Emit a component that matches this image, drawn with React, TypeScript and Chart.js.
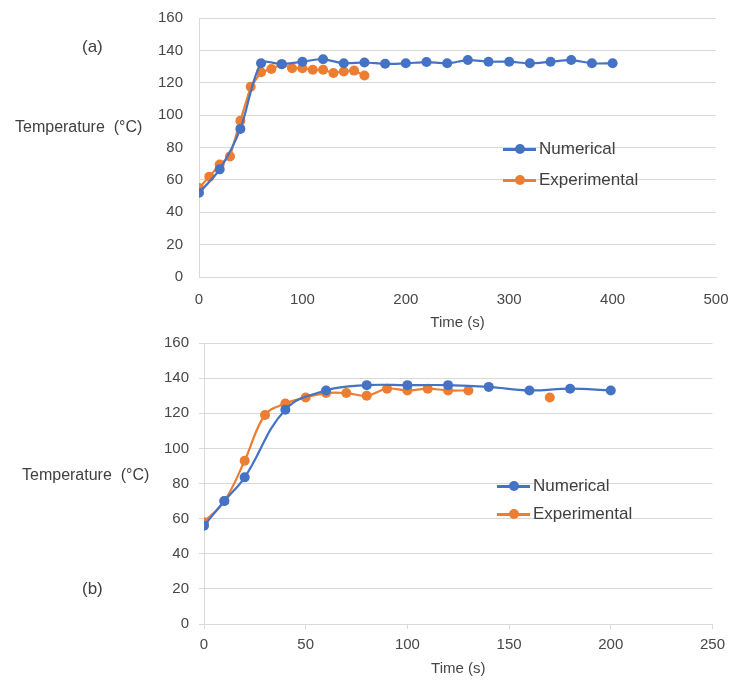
import React, { useEffect, useRef } from "react";
import { Chart, registerables } from "chart.js";
Chart.register(...registerables);

const BLUE = "#4472C4";
const ORANGE = "#ED7D31";
const GRID = "#D9D9D9";
const TEXT = "#474747";
const FONT = "'Liberation Sans', Arial, sans-serif";

const seriesNames = ["Numerical", "Experimental"];

// Chart (a)
const timeA_num = [0, 20, 40, 60, 80, 100, 120, 140, 160, 180, 200, 220, 240, 260, 280, 300, 320, 340, 360, 380, 400];
const tempA_num = [52, 66.5, 91.5, 132, 131.5, 133, 134.5, 132, 132.5, 131.7, 132, 132.8, 132, 134, 133, 133, 132, 133, 134, 132, 132];
const timeA_exp = [0, 10, 20, 30, 40, 50, 60, 70, 80, 90, 100, 110, 120, 130, 140, 150, 160];
const tempA_exp = [55, 62, 69.5, 74.5, 96.5, 117.5, 126.5, 128.5, 131.5, 129, 129, 128, 128, 126, 127, 127.5, 124.5];
const xTicksA = [0, 100, 200, 300, 400, 500];

// Chart (b)
const timeB_num = [0, 10, 20, 40, 60, 80, 100, 120, 140, 160, 180, 200];
const tempB_num = [56, 70, 83.5, 122, 133, 136, 136, 136, 135, 133, 134, 133];
const timeB_exp = [0, 10, 20, 30, 40, 50, 60, 70, 80, 90, 100, 110, 120, 130, 140, 150, 160, 170];
const tempB_exp = [58, 70, 93, 119, 125.5, 129, 131.5, 131.5, 130, 134, 133, 134, 133, 133, null, null, null, 129];
const xTicksB = [0, 50, 100, 150, 200, 250];

const yTicks = [0, 20, 40, 60, 80, 100, 120, 140, 160];

function pts(xs: number[], ys: (number | null)[]) {
  return xs.map((x, i) => ({ x, y: ys[i] }));
}

type PanelProps = {
  top: number;
  height: number;
  padTop: number;
  padRight: number;
  yWidth: number;
  xHeight: number;
  xTicks: number[];
  datasets: any[];
  visibleTicks: boolean;
  xTickLen: number;
  xLabelPad: number;
  yTickLen: number;
  yLabelPad: number;
  titlePadBottom: number;
};

function Panel(p: PanelProps) {
  const ref = useRef<HTMLCanvasElement | null>(null);
  useEffect(() => {
    if (!ref.current) return;
    const xMax = p.xTicks[p.xTicks.length - 1];
    const step = p.xTicks[1] - p.xTicks[0];
    const tickColor = p.visibleTicks ? GRID : "rgba(0,0,0,0)";
    const chart = new Chart(ref.current, {
      type: "line",
      data: { datasets: p.datasets },
      options: {
        responsive: false,
        animation: false,
        events: [],
        layout: { padding: { top: p.padTop, right: p.padRight, left: 0, bottom: 0 } },
        plugins: { legend: { display: false }, tooltip: { enabled: false } },
        scales: {
          x: {
            type: "linear",
            min: 0,
            max: xMax,
            afterBuildTicks: (s: any) => {
              s.ticks = p.xTicks.map((v) => ({ value: v }));
            },
            ticks: { stepSize: step, color: TEXT, font: { family: FONT, size: 15 }, padding: p.xLabelPad, maxRotation: 0 },
            grid: {
              display: true,
              drawOnChartArea: false,
              drawTicks: true,
              tickLength: p.xTickLen,
              color: GRID,
              tickColor: tickColor,
            },
            border: { display: true, color: GRID, width: 1 },
            title: {
              display: true,
              text: "Time (s)",
              color: TEXT,
              font: { family: FONT, size: 15 },
              padding: { top: 0, bottom: p.titlePadBottom },
            },
            afterFit: (s: any) => {
              s.height = p.xHeight;
            },
          },
          y: {
            type: "linear",
            min: 0,
            max: 160,
            afterBuildTicks: (s: any) => {
              s.ticks = yTicks.map((v) => ({ value: v }));
            },
            ticks: { stepSize: 20, color: TEXT, font: { family: FONT, size: 15 }, padding: p.yLabelPad },
            grid: { color: GRID, lineWidth: 1, drawTicks: true, tickLength: p.yTickLen, tickColor: tickColor },
            border: { display: true, color: GRID, width: 1 },
            afterFit: (s: any) => {
              s.width = p.yWidth;
            },
          },
        },
      },
    } as any);
    return () => chart.destroy();
  }, []);
  return (
    <canvas
      ref={ref}
      width={732}
      height={p.height}
      style={{ position: "absolute", left: 0, top: p.top, width: 732, height: p.height }}
    />
  );
}

function ds(label: string, color: string, data: any[], tension: number) {
  return {
    label,
    data,
    borderColor: color,
    backgroundColor: color,
    pointBackgroundColor: color,
    pointBorderColor: color,
    pointRadius: 5,
    pointBorderWidth: 0,
    borderWidth: 2.2,
    tension,
    spanGaps: false,
    fill: false,
  };
}

function LegendItem({ x, y, color, text }: { x: number; y: number; color: string; text: string }) {
  return (
    <div style={{ position: "absolute", left: x, top: y - 12, height: 24, display: "flex", alignItems: "center" }}>
      <div style={{ position: "relative", width: 33, height: 24 }}>
        <div style={{ position: "absolute", left: 0, top: 11, width: 33, height: 2.5, background: color }} />
        <div style={{ position: "absolute", left: 11.5, top: 7, width: 10, height: 10, borderRadius: 5, background: color }} />
      </div>
      <span style={{ marginLeft: 3, fontSize: 17, color: "#404040", fontFamily: FONT, whiteSpace: "nowrap" }}>{text}</span>
    </div>
  );
}

function Label({ x, y, text, size }: { x: number; y: number; text: string; size: number }) {
  return (
    <div
      style={{
        position: "absolute",
        left: x,
        top: y,
        transform: "translateY(-50%)",
        fontSize: size,
        lineHeight: 1,
        color: "#404040",
        fontFamily: FONT,
        whiteSpace: "pre",
      }}
    >
      {text}
    </div>
  );
}

export default function App() {
  const dsA = [
    ds(seriesNames[0], BLUE, pts(timeA_num, tempA_num), 0.3),
    ds(seriesNames[1], ORANGE, pts(timeA_exp, tempA_exp), 0),
  ];
  const dsB = [
    ds(seriesNames[0], BLUE, pts(timeB_num, tempB_num), 0.4),
    ds(seriesNames[1], ORANGE, pts(timeB_exp, tempB_exp), 0.4),
  ];
  return (
    <div style={{ position: "absolute", left: 0, top: 0, width: 732, height: 683, background: "#fff", overflow: "hidden" }}>
      <Panel
        top={0}
        height={335}
        padTop={18}
        padRight={16}
        yWidth={199}
        xHeight={58}
        xTicks={xTicksA}
        datasets={dsA}
        visibleTicks={false}
        xTickLen={11}
        xLabelPad={3}
        yTickLen={10}
        yLabelPad={6}
        titlePadBottom={3}
      />
      <Panel
        top={324}
        height={359}
        padTop={0}
        padRight={19}
        yWidth={204}
        xHeight={59}
        xTicks={xTicksB}
        datasets={dsB}
        visibleTicks={true}
        xTickLen={5}
        xLabelPad={7}
        yTickLen={5}
        yLabelPad={10}
        titlePadBottom={5}
      />
      <Label x={82} y={46} text="(a)" size={17} />
      <Label x={15} y={127} text={"Temperature  (°C)"} size={16} />
      <LegendItem x={503} y={149} color={BLUE} text={seriesNames[0]} />
      <LegendItem x={503} y={180} color={ORANGE} text={seriesNames[1]} />

      <Label x={22} y={475} text={"Temperature  (°C)"} size={16} />
      <Label x={82} y={588} text="(b)" size={17} />
      <LegendItem x={497} y={486} color={BLUE} text={seriesNames[0]} />
      <LegendItem x={497} y={514} color={ORANGE} text={seriesNames[1]} />
    </div>
  );
}
